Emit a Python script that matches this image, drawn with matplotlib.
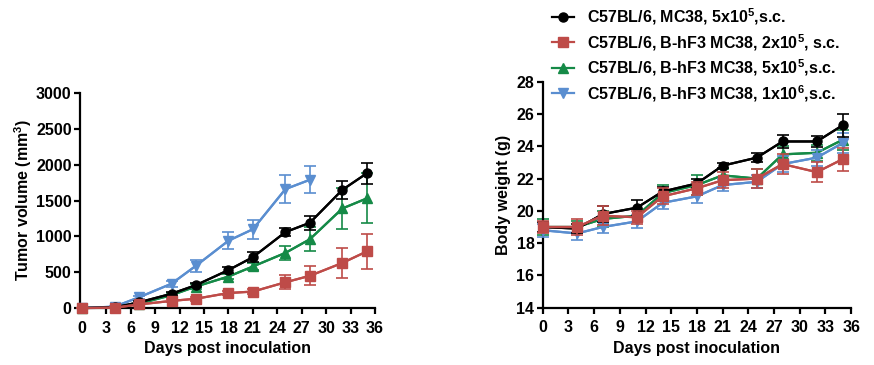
import numpy as np
import matplotlib as mpl
import matplotlib.pyplot as plt


# data
days = [0, 4, 7, 11, 14, 18, 21, 25, 28, 32, 35]
days_blue = [0, 4, 7, 11, 14, 18, 21, 25, 28]

labels = [r"C57BL/6, MC38, 5x10$^{5}$,s.c.",
          r"C57BL/6, B-hF3 MC38, 2x10$^{5}$, s.c.",
          r"C57BL/6, B-hF3 MC38, 5x10$^{5}$,s.c.",
          r"C57BL/6, B-hF3 MC38, 1x10$^{6}$,s.c."]

# tumor volume (mm^3), mean and SEM
vol_black = [0, 10, 80, 200, 320, 530, 710, 1060, 1190, 1650, 1880]
vol_black_err = [0, 10, 20, 30, 30, 40, 70, 60, 100, 130, 150]
vol_red = [0, 5, 50, 100, 130, 210, 230, 360, 450, 630, 790]
vol_red_err = [0, 5, 15, 20, 25, 30, 30, 100, 130, 210, 250]
vol_green = [0, 10, 60, 180, 300, 440, 580, 770, 960, 1390, 1530]
vol_green_err = [0, 10, 15, 25, 30, 40, 50, 100, 170, 280, 350]
vol_blue = [0, 20, 150, 340, 590, 940, 1100, 1660, 1790]
vol_blue_err = [0, 10, 20, 40, 80, 120, 130, 200, 190]

# body weight (g), mean and SEM
bw_black = [19.0, 18.9, 19.8, 20.2, 21.2, 21.7, 22.8, 23.3, 24.3, 24.3, 25.3]
bw_black_err = [0.3, 0.3, 0.5, 0.5, 0.3, 0.3, 0.15, 0.3, 0.4, 0.35, 0.7]
bw_red = [19.0, 19.0, 19.7, 19.6, 20.9, 21.4, 21.9, 22.0, 22.9, 22.4, 23.2]
bw_red_err = [0.4, 0.5, 0.6, 0.4, 0.5, 0.4, 0.5, 0.6, 0.6, 0.6, 0.7]
bw_green = [19.0, 19.0, 19.5, 19.7, 21.1, 21.6, 22.2, 22.0, 23.5, 23.6, 24.4]
bw_green_err = [0.5, 0.4, 0.5, 0.4, 0.5, 0.6, 0.4, 0.6, 0.5, 0.5, 0.6]
bw_blue = [18.8, 18.6, 19.0, 19.35, 20.5, 20.9, 21.6, 21.8, 22.9, 23.3, 24.2]
bw_blue_err = [0.4, 0.4, 0.4, 0.4, 0.4, 0.4, 0.4, 0.4, 0.5, 0.5, 0.6]

FS = 11.5

# plotting params
mpl.rcParams.update({'font.family': ['Liberation Sans', 'DejaVu Sans'],
                     'font.weight': 'bold',
                     'font.size': FS,
                     'axes.labelweight': 'bold',
                     'mathtext.fontset': 'custom',
                     'mathtext.rm': 'Liberation Sans:bold',
                     'mathtext.bf': 'Liberation Sans:bold',
                     'mathtext.default': 'bf'})

BLACK = 'black'
RED = '#BE4B48'
GREEN = '#158A47'
BLUE = '#5A8ED0'


def draw(ax, x, y, err, color, marker, ms, z):
    ax.errorbar(x, y, yerr=err, color=color, ecolor=color, elinewidth=1.2,
                capsize=4, capthick=1.2, marker=None, lw=1.6, zorder=z,
                clip_on=False)
    line = ax.plot(x, y, color=color, marker=marker, markersize=ms, lw=1.6,
                   zorder=z + 0.5, clip_on=False)
    return line[0]


def style(ax):
    for side in ('top', 'right'):
        ax.spines[side].set_visible(False)
    for side in ('left', 'bottom'):
        ax.spines[side].set_linewidth(1.6)
    ax.tick_params(axis='y', width=1.6, length=4, pad=2, labelsize=FS)
    ax.tick_params(axis='x', width=1.6, length=4, pad=5, labelsize=FS)
    ax.set_xticks(np.arange(0, 37, 3))
    ax.set_xlabel("Days post inoculation", fontsize=FS, labelpad=4)


fig = plt.figure(figsize=(8.74, 3.65), dpi=100)
ax1 = fig.add_axes([0.0915, 0.156, 0.3375, 0.589])
ax2 = fig.add_axes([0.621, 0.157, 0.3528, 0.619])

# left: tumor volume
draw(ax1, days, vol_green, vol_green_err, GREEN, '^', 6.5, 2)
draw(ax1, days_blue, vol_blue, vol_blue_err, BLUE, 'v', 6.5, 3)
draw(ax1, days, vol_black, vol_black_err, BLACK, 'o', 6.5, 4)
draw(ax1, days, vol_red, vol_red_err, RED, 's', 6.5, 5)
style(ax1)
ax1.set_xlim(-0.25, 36)
ax1.set_ylim(0, 3000)
ax1.set_yticks(np.arange(0, 3001, 500))
ax1.set_ylabel("Tumor volume (mm$^{3}$)", fontsize=FS, labelpad=1)

# right: body weight
h_green = draw(ax2, days, bw_green, bw_green_err, GREEN, '^', 6.5, 2)
h_blue = draw(ax2, days, bw_blue, bw_blue_err, BLUE, 'v', 6.5, 3)
h_black = draw(ax2, days, bw_black, bw_black_err, BLACK, 'o', 6.5, 4)
h_red = draw(ax2, days, bw_red, bw_red_err, RED, 's', 6.5, 5)
style(ax2)
ax2.set_xlim(0, 36)
ax2.set_ylim(14, 28)
ax2.set_yticks(np.arange(14, 29, 2))
ax2.set_ylabel("Body weight (g)", fontsize=FS, labelpad=4)

fig.legend(handles=[h_black, h_red, h_green, h_blue], labels=labels,
           loc='upper left', bbox_to_anchor=(0.624, 1.0), frameon=False,
           fontsize=FS, handlelength=1.4, handletextpad=0.8,
           labelspacing=0.3, borderaxespad=0)

fig.savefig("out.png", dpi=100)
